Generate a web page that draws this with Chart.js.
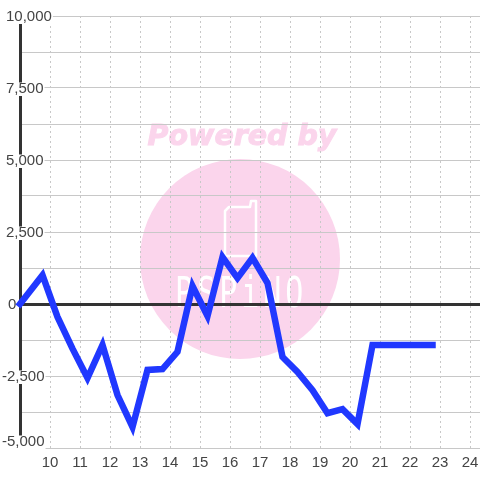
<!DOCTYPE html>
<html>
<head>
<meta charset="utf-8">
<style>
  html, body { margin: 0; padding: 0; background: #fff; }
  #wrap { width: 480px; height: 480px; }
</style>
<script src="https://cdn.jsdelivr.net/npm/chart.js@4/dist/chart.umd.min.js"></script>
</head>
<body>
<div id="wrap"><canvas id="chart" width="480" height="480"></canvas></div>
<script>
// --- Data ---
const hours = [9, 9.75, 10.25, 10.75, 11.25, 11.75, 12.25, 12.75, 13.25, 13.75, 14.25, 14.75, 15.25, 15.75,
  16.25, 16.75, 17.25, 17.75, 18.25, 18.75, 19.25, 19.75, 20.25, 20.75, 21.25, 21.75, 22.25, 22.75];
const values = [0, 1000, -450, -1550, -2570, -1420, -3160, -4270, -2290, -2260, -1660, 625, -417, 1630,
  900, 1600, 730, -1840, -2360, -2990, -3790, -3650, -4170, -1420, -1420, -1420, -1420, -1420];
const xTicks = [10, 11, 12, 13, 14, 15, 16, 17, 18, 19, 20, 21, 22, 23, 24];
const yTicks = [-5000, -3750, -2500, -1250, 0, 1250, 2500, 3750, 5000, 6250, 7500, 8750, 10000];

const LABEL_FONT = { family: '"Liberation Sans", Arial, sans-serif', size: 15 };
const TEXT_COLOR = '#444444';
const GRID_COLOR = '#c8c8c8';
const AXIS_COLOR = '#333333';

const isMajor = v => v % 2500 === 0;

// --- Watermark sits under the grid ---
function drawWatermark(ctx) {
  ctx.save();
  ctx.fillStyle = '#fff';
  ctx.fillRect(0, 0, 480, 480);

  ctx.fillStyle = '#fbd5ec';
  ctx.beginPath();
  ctx.arc(240, 259, 100, 0, Math.PI * 2);
  ctx.fill();

  ctx.font = 'italic bold 28.5px "DejaVu Sans"';
  ctx.textAlign = 'center';
  ctx.textBaseline = 'alphabetic';
  ctx.strokeStyle = '#fbd5ec';
  ctx.lineWidth = 1;
  ctx.fillText('Powered by', 242, 144.5);
  ctx.strokeText('Powered by', 242, 144.5);

  // phone
  ctx.strokeStyle = '#fff';
  ctx.lineWidth = 2.5;
  ctx.lineJoin = 'round';
  ctx.beginPath();
  ctx.moveTo(229, 207);
  ctx.lineTo(250, 207);
  ctx.lineTo(251, 201);
  ctx.lineTo(256, 201);
  ctx.lineTo(256, 256);
  ctx.lineTo(225, 256);
  ctx.lineTo(225, 211);
  ctx.closePath();
  ctx.stroke();

  // logo name, tall and thin
  ctx.translate(240, 307);
  ctx.scale(1.25, 1.8);
  ctx.font = '24px "DejaVu Sans Mono"';
  ctx.letterSpacing = '3.2px';
  ctx.fillStyle = '#fff';
  ctx.fillText('PSPiNO', 1, 0);
  ctx.restore();
}

// Nudge the y labels and their white boxes: the minus hangs left, the bottom label is lifted
function placeYLabels(scale) {
  scale.getLabelItems().forEach((item, i) => {
    const v = scale.ticks[i].value;
    if (!isMajor(v)) return;
    const cx = v === 0 ? 8 : v < 0 ? 2 : 6;
    const cy = scale.getPixelForValue(v) + (v === -5000 ? -6 : 1);
    item.options.translation = [cx, cy];
    // backdrop coordinates are relative to the translation
    const box = item.options.backdrop;
    box.left = -1;
    box.top = -6.5;
    box.height = 13.5;
  });
}

const layoutFixes = {
  id: 'layoutFixes',
  beforeDraw(chart) {
    drawWatermark(chart.ctx);
    placeYLabels(chart.scales.y);
  }
};

new Chart(document.getElementById('chart'), {
  type: 'line',
  plugins: [layoutFixes],
  data: {
    datasets: [{
      data: hours.map((h, i) => ({ x: h, y: values[i] })),
      borderColor: '#2038ff',
      borderWidth: 6.5,
      borderJoinStyle: 'miter',
      borderCapStyle: 'square',
      pointRadius: 0,
      tension: 0,
      clip: false
    }]
  },
  options: {
    responsive: false,
    animation: false,
    devicePixelRatio: 1,
    layout: { autoPadding: false, padding: { top: 16, right: 0, bottom: 0, left: 0 } },
    plugins: { legend: { display: false }, tooltip: { enabled: false } },
    scales: {
      x: {
        type: 'linear',
        min: 9,
        max: 24.3333,
        afterBuildTicks: s => { s.ticks = xTicks.map(v => ({ value: v })); },
        afterFit: s => { s.height = 32; s.paddingLeft = 0; s.paddingRight = 0; },
        grid: { color: GRID_COLOR, lineWidth: 1, drawTicks: false },
        border: { display: false, dash: [2, 3] },
        ticks: {
          autoSkip: false, maxRotation: 0, font: LABEL_FONT, color: TEXT_COLOR, padding: 6,
          callback: v => String(v)
        }
      },
      y: {
        min: -5000,
        max: 10000,
        afterBuildTicks: s => { s.ticks = yTicks.map(v => ({ value: v })); },
        afterFit: s => { s.width = 20; },
        grid: {
          drawTicks: false,
          color: c => (c.tick && c.tick.value === 0 ? AXIS_COLOR : GRID_COLOR),
          lineWidth: c => (c.tick && c.tick.value === 0 ? 3 : 1)
        },
        border: { color: AXIS_COLOR, width: 3 },
        ticks: {
          autoSkip: false,
          mirror: true,
          padding: -14,
          font: LABEL_FONT,
          color: TEXT_COLOR,
          showLabelBackdrop: true,
          backdropPadding: 1,
          backdropColor: c => (isMajor(c.tick.value) ? '#ffffff' : 'rgba(0,0,0,0)'),
          callback: v => (isMajor(v) ? v.toLocaleString('en-US') : '')
        }
      }
    }
  }
});
</script>
</body>
</html>
